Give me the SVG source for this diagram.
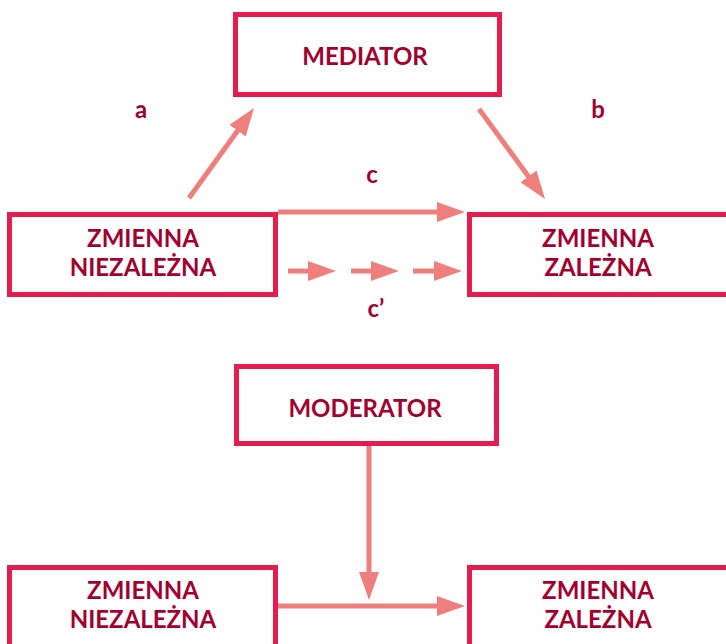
<svg xmlns="http://www.w3.org/2000/svg" width="726" height="644" viewBox="0 0 726 644">
<style>
.box{fill:#fff;stroke:#E61C4F;stroke-width:5}
.t{font-family:Lato,"Open Sans","Liberation Sans",sans-serif;font-weight:700;font-size:24px;fill:#A3002F;text-anchor:middle}
.c{stroke:#EF7F7D;stroke-width:5;fill:none}
</style>
<defs>
<marker id="ah" markerUnits="userSpaceOnUse" markerWidth="28" markerHeight="20" refX="8" refY="10" orient="auto" viewBox="0 0 28 20">
<path d="M0,0 L28,10 L0,20 z" fill="#EF7F7D"/>
</marker>
</defs>
<rect width="726" height="644" fill="#fff"/>
<g id="mediator"><rect class="box" x="235.5" y="14.5" width="264" height="80"/><text class="t" x="365" y="65">MEDIATOR</text></g>
<g id="niezalezna1"><rect class="box" x="9.5" y="214.5" width="266" height="80"/><text class="t" x="143" y="247">ZMIENNA</text><text class="t" x="143" y="276">NIEZALEŻNA</text></g>
<g id="zalezna1"><rect class="box" x="469.5" y="214.5" width="262" height="80"/><text class="t" x="598" y="247">ZMIENNA</text><text class="t" x="598" y="276">ZALEŻNA</text></g>
<g id="moderator"><rect class="box" x="236.5" y="366.5" width="260" height="77"/><text class="t" x="365" y="417">MODERATOR</text></g>
<g id="niezalezna2"><rect class="box" x="9.5" y="567.5" width="266" height="90"/><text class="t" x="143" y="599">ZMIENNA</text><text class="t" x="143" y="628">NIEZALEŻNA</text></g>
<g id="zalezna2"><rect class="box" x="469.5" y="567.5" width="262" height="90"/><text class="t" x="598" y="599">ZMIENNA</text><text class="t" x="598" y="628">ZALEŻNA</text></g>
<g id="connectors">
<line class="c" x1="189" y1="198" x2="242.3" y2="124.2" marker-end="url(#ah)"/>
<line class="c" x1="479" y1="109" x2="533.2" y2="182.9" marker-end="url(#ah)"/>
<line class="c" x1="278" y1="212" x2="445" y2="212" marker-end="url(#ah)"/>
<line class="c" x1="288" y1="271" x2="316" y2="271" marker-end="url(#ah)"/>
<line class="c" x1="351" y1="271" x2="379" y2="271" marker-end="url(#ah)"/>
<line class="c" x1="413" y1="271" x2="442" y2="271" marker-end="url(#ah)"/>
<line class="c" x1="369" y1="446" x2="369" y2="580" marker-end="url(#ah)"/>
<line class="c" x1="278" y1="606" x2="445" y2="606" marker-end="url(#ah)"/>
</g>
<g id="labels">
<text class="t" x="141" y="118">a</text>
<text class="t" x="598" y="118">b</text>
<text class="t" x="372" y="183">c</text>
<text class="t" x="376" y="317">c’</text>
</g>
</svg>
